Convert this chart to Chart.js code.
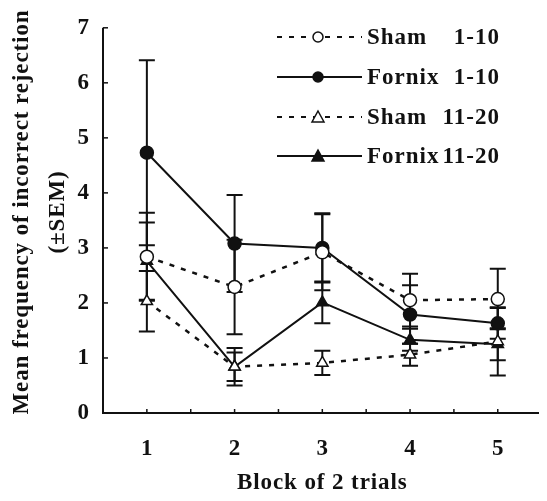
<!DOCTYPE html>
<html>
<head>
<meta charset="utf-8">
<script src="https://cdn.jsdelivr.net/npm/chart.js@4.4.1/dist/chart.umd.min.js"></script>
<style>
  html, body { margin: 0; padding: 0; background: #fff; }
  #wrap { width: 547px; height: 501px; }
</style>
</head>
<body>
<div id="wrap"><canvas id="myChart" width="547" height="501"></canvas></div>
<script>
// block numbers (x) and y tick values
const blocks = [1, 2, 3, 4, 5];
const yTicks = [0, 1, 2, 3, 4, 5, 6, 7];

// means
const shamEarly = [2.84, 2.29, 2.92, 2.05, 2.07];
const fornixEarly = [4.73, 3.08, 3.00, 1.79, 1.63];
const shamLate = [2.03, 0.84, 0.91, 1.06, 1.30];
const fornixLate = [2.76, 0.84, 2.01, 1.33, 1.25];

// SEM
const semShamEarly = [0.80, 0.86, 0.69, 0.48, 0.55];
const semFornixEarly = [1.68, 0.88, 0.63, 0.53, 0.28];
const semShamLate = [0.55, 0.26, 0.22, 0.20, 0.62];
const semFornixLate = [0.70, 0.34, 0.38, 0.20, 0.29];

const legendNames = ['Sham', 'Fornix', 'Sham', 'Fornix'];
const legendRanges = ['1-10', '1-10', '11-20', '11-20'];

const ink = '#111';
const serif = '"Liberation Serif", "Times New Roman", serif';

const toPoints = (vals) => vals.map((v, i) => ({ x: blocks[i], y: v }));

const series = [
  { data: shamEarly, sem: semShamEarly, dash: [5, 7], style: 'circle', fill: '#fff' },
  { data: fornixEarly, sem: semFornixEarly, dash: [], style: 'circle', fill: ink },
  { data: shamLate, sem: semShamLate, dash: [5, 7], style: 'triangle', fill: '#fff' },
  { data: fornixLate, sem: semFornixLate, dash: [], style: 'triangle', fill: ink }
];

// error bars, axes, ticks, titles and legend
const extras = {
  id: 'extras',
  beforeDatasetsDraw(chart) {
    const { ctx, scales: { x, y } } = chart;
    ctx.save();
    ctx.strokeStyle = ink;
    ctx.lineWidth = 2;
    ctx.setLineDash([]);
    series.forEach(s => {
      s.data.forEach((v, i) => {
        const px = x.getPixelForValue(blocks[i]);
        const top = y.getPixelForValue(v + s.sem[i]);
        const bot = y.getPixelForValue(v - s.sem[i]);
        ctx.beginPath();
        ctx.moveTo(px, top); ctx.lineTo(px, bot);
        ctx.moveTo(px - 8, top); ctx.lineTo(px + 8, top);
        ctx.moveTo(px - 8, bot); ctx.lineTo(px + 8, bot);
        ctx.stroke();
      });
    });
    ctx.restore();
  },
  afterDraw(chart) {
    const { ctx, chartArea: a, scales: { x, y } } = chart;
    ctx.save();
    ctx.strokeStyle = ink;
    ctx.lineWidth = 2;
    // axes
    ctx.beginPath();
    ctx.moveTo(a.left, a.top); ctx.lineTo(a.left, a.bottom); ctx.lineTo(a.right, a.bottom);
    ctx.stroke();
    // y ticks pointing in
    ctx.lineWidth = 1.5;
    yTicks.forEach(t => {
      const py = y.getPixelForValue(t);
      ctx.beginPath(); ctx.moveTo(a.left, py); ctx.lineTo(a.left + 5, py); ctx.stroke();
    });
    // x ticks pointing in, at every half block
    for (let v = 1; v <= 5.4; v += 0.5) {
      const px = x.getPixelForValue(v);
      ctx.beginPath(); ctx.moveTo(px, a.bottom); ctx.lineTo(px, a.bottom - 4); ctx.stroke();
    }
    // titles
    ctx.fillStyle = ink;
    ctx.font = 'bold 23px ' + serif;
    ctx.letterSpacing = '0.9px';
    ctx.textAlign = 'center';
    ctx.textBaseline = 'middle';
    ctx.fillText('Block of 2 trials', x.getPixelForValue(3), 483);
    ctx.save();
    ctx.translate(22, 212);
    ctx.rotate(-Math.PI / 2);
    ctx.fillText('Mean frequency of incorrect rejection', 0, 0);
    ctx.fillText('(\u00B1SEM)', 0, 36);
    ctx.restore();
    // legend
    const rows = [37, 77, 117, 156];
    series.forEach((s, i) => {
      const ry = rows[i];
      ctx.lineWidth = 2;
      ctx.setLineDash(s.dash);
      ctx.beginPath(); ctx.moveTo(277, ry); ctx.lineTo(362, ry); ctx.stroke();
      ctx.setLineDash([]);
      ctx.fillStyle = s.fill;
      ctx.lineWidth = 1.5;
      ctx.beginPath();
      if (s.style === 'circle') {
        ctx.arc(318, ry, 5, 0, Math.PI * 2);
      } else {
        ctx.moveTo(318, ry - 6); ctx.lineTo(324, ry + 5); ctx.lineTo(312, ry + 5); ctx.closePath();
      }
      ctx.fill(); ctx.stroke();
      ctx.fillStyle = ink;
      ctx.font = 'bold 23px ' + serif;
      ctx.letterSpacing = '1px';
      ctx.textAlign = 'left';
      ctx.fillText(legendNames[i], 367, ry + 1);
      ctx.textAlign = 'right';
      ctx.fillText(legendRanges[i], 500, ry + 1);
    });
    ctx.restore();
  }
};

const ctx = document.getElementById('myChart').getContext('2d');
const myChart = new Chart(ctx, {
  type: 'scatter',
  data: {
    datasets: series.map(s => ({
      data: toPoints(s.data),
      showLine: true,
      borderColor: ink,
      borderWidth: s.dash.length ? 2.5 : 2,
      borderDash: s.dash,
      pointStyle: s.style,
      pointRadius: 6.5,
      pointBorderWidth: 1.5,
      pointBackgroundColor: s.fill,
      pointBorderColor: ink
    }))
  },
  options: {
    responsive: false,
    animation: false,
    layout: { padding: { top: 20, right: 0, left: 0, bottom: 0 } },
    plugins: { legend: { display: false }, tooltip: { enabled: false } },
    scales: {
      x: {
        type: 'linear',
        min: 0.5,
        max: 5.47,
        afterFit: (s) => { s.height = 88; },
        afterBuildTicks: (s) => { s.ticks = blocks.map(b => ({ value: b })); },
        grid: { display: false, drawTicks: false },
        border: { display: false },
        ticks: { color: ink, padding: 22, font: { family: serif, size: 23, weight: 'bold' } }
      },
      y: {
        min: 0,
        max: 7,
        afterFit: (s) => { s.width = 103; },
        afterBuildTicks: (s) => { s.ticks = yTicks.map(t => ({ value: t })); },
        grid: { display: false, drawTicks: false },
        border: { display: false },
        ticks: { color: ink, padding: 14, font: { family: serif, size: 23, weight: 'bold' } }
      }
    }
  },
  plugins: [extras]
});
</script>
</body>
</html>
